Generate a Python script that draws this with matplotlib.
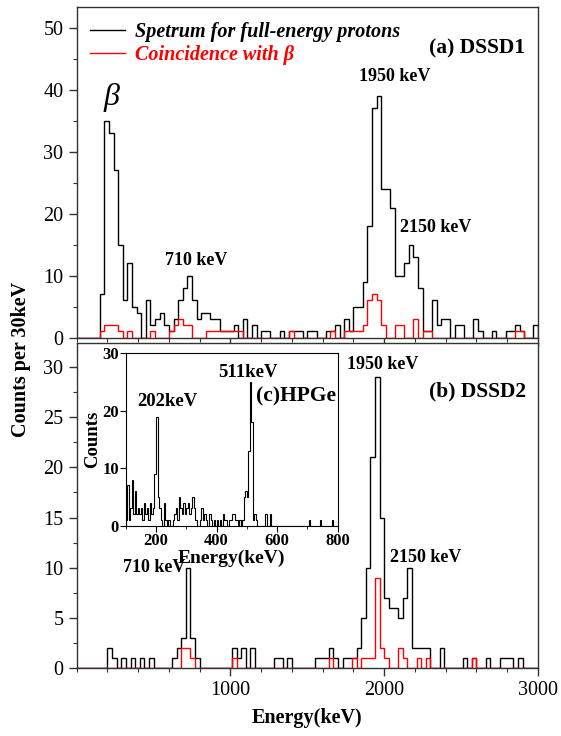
import numpy as np
import matplotlib
matplotlib.use("Agg")
import matplotlib.pyplot as plt
from matplotlib.lines import Line2D
from matplotlib.ticker import MultipleLocator, FixedLocator

plt.rcParams['font.family'] = ['Liberation Serif', 'DejaVu Serif']

# ── (a) DSSD1: 30 keV bins starting at 0 keV ───────────────────────
bin_w = 30
dssd1_start = 0
dssd1_all = [
    0, 0, 0, 0, 0,
    7, 35, 33, 27, 15, 6, 12, 5, 4, 0,
    6, 2, 3, 4, 2, 1, 3, 6, 8, 10,
    6, 3, 4, 4, 3, 3, 1, 1, 1, 2,
    0, 3, 0, 2, 0, 1, 1, 0, 0, 1,
    0, 1, 1, 1, 0, 1, 1, 0, 0, 1,
    1, 2, 0, 3, 1, 5, 5, 9, 18, 37,
    39, 24, 24, 21, 10, 10, 12, 15, 13, 8,
    1, 1, 6, 2, 3, 3, 0, 2, 2, 0,
    0, 3, 1, 0, 0, 1, 0, 0, 1, 1,
    2, 1, 0, 0, 2,
]
dssd1_beta = [
    0, 0, 0, 0, 0,
    1, 2, 2, 2, 1, 0, 1, 0, 0, 0,
    0, 1, 0, 0, 0, 1, 2, 3, 2, 2,
    0, 0, 0, 1, 1, 1, 1, 1, 1, 1,
    1, 0, 0, 0, 0, 0, 0, 0, 0, 0,
    0, 1, 0, 0, 0, 0, 0, 0, 0, 0,
    1, 0, 0, 1, 1, 1, 1, 2, 6, 7,
    6, 2, 0, 0, 2, 2, 0, 0, 3, 0,
    1, 1, 0, 0, 0, 0, 0, 0, 0, 0,
    0, 0, 0, 0, 0, 0, 0, 0, 0, 0,
    1, 1, 0, 0, 0,
]

# ── (b) DSSD2: 30 keV bins starting at -10 keV ─────────────────────
dssd2_start = -10
dssd2_all = [
    0, 0, 0, 0, 0, 0, 0,
    2, 1, 0, 1, 0, 1, 0, 1, 0, 1,
    0, 0, 0, 0, 1, 2, 3, 10, 3, 1,
    0, 0, 0, 0, 0, 0, 0, 2, 1, 2,
    0, 2, 0, 0, 0, 0, 1, 1, 0, 1,
    0, 0, 0, 0, 0, 1, 1, 1, 2, 1,
    0, 1, 1, 1, 2, 5, 10, 21, 29, 15,
    7, 6, 6, 5, 7, 10, 2, 2, 2, 2,
    0, 0, 2, 0, 0, 0, 0, 1, 0, 1,
    0, 0, 1, 0, 0, 1, 1, 1, 0, 1,
    0, 0, 0, 0,
]
dssd2_beta = [
    0, 0, 0, 0, 0, 0, 0,
    0, 0, 0, 0, 0, 0, 0, 0, 0, 0,
    0, 0, 0, 0, 0, 0, 2, 2, 1, 0,
    0, 0, 0, 0, 0, 0, 0, 1, 0, 0,
    0, 0, 0, 0, 0, 0, 0, 0, 0, 0,
    0, 0, 0, 0, 0, 0, 0, 0, 1, 0,
    0, 0, 0, 1, 0, 1, 1, 1, 9, 2,
    1, 0, 0, 2, 1, 0, 0, 1, 0, 1,
    0, 0, 0, 0, 0, 0, 0, 0, 0, 1,
    0, 0, 0, 0, 0, 0, 0, 0, 0, 0,
    0, 0, 0, 0,
]

# ── (c) HPGe inset: 5 keV channels from 100 keV ────────────────────
hpge_w = 5
hpge_start = 100
hpge_counts = [
    1, 7, 1, 3, 8, 2, 6, 2, 3, 2,
    3, 1, 4, 2, 3, 1, 4, 2, 3, 9,
    19, 5, 3, 1, 0, 4, 1, 0, 1, 0,
    0, 1, 2, 3, 1, 5, 3, 2, 4, 2,
    3, 4, 2, 3, 5, 3, 1, 0, 0, 1,
    3, 1, 2, 1, 0, 2, 1, 0, 1, 0,
    1, 0, 1, 0, 2, 1, 1, 0, 1, 1,
    2, 2, 1, 1, 0, 1, 0, 1, 5, 6,
    5, 13, 25, 18, 1, 2, 1, 0, 0, 0,
    0, 0, 2, 0, 0, 2, 0, 0, 0, 0,
    0, 0, 0, 0, 0, 0, 0, 0, 0, 0,
    0, 0, 0, 0, 0, 0, 0, 0, 0, 0,
    0, 1, 0, 0, 0, 0, 0, 0, 1, 0,
    0, 0, 0, 0, 0, 0, 1, 0, 0, 0,
]

legend_labels = ["Spetrum for full-energy protons", "Coincidence with β"]


def edges_for(values, start, width):
    return start + width * np.arange(len(values) + 1)


spine_col = "#333333"
tick_fs = 14.5

fig = plt.figure(figsize=(5.61, 7.36), dpi=100)
ax1 = fig.add_axes([0.1367, 0.5412, 0.8223, 0.4488])
ax2 = fig.add_axes([0.1367, 0.0928, 0.8223, 0.4408])
axin = fig.add_axes([0.2241, 0.2857, 0.3779, 0.2343])

# ── main panels ─────────────────────────────────────────────────────
for ax, allv, betav, start in [(ax1, dssd1_all, dssd1_beta, dssd1_start),
                               (ax2, dssd2_all, dssd2_beta, dssd2_start)]:
    ax.stairs(allv, edges_for(allv, start, bin_w), color="black", lw=1.0)
    ax.stairs(betav, edges_for(betav, start, bin_w), color="red", lw=1.0)
    ax.set_xlim(0, 3000)
    ax.xaxis.set_major_locator(FixedLocator([1000, 2000, 3000]))
    ax.xaxis.set_minor_locator(MultipleLocator(200))
    ax.tick_params(which="major", direction="out", length=6, width=1.0,
                   labelsize=tick_fs, color=spine_col)
    ax.tick_params(which="minor", direction="out", length=3, width=0.8,
                   color=spine_col)
    for s in ax.spines.values():
        s.set_color(spine_col)
        s.set_linewidth(1.0)

ax1.set_ylim(0, 53.3)
ax1.yaxis.set_major_locator(MultipleLocator(10))
ax1.yaxis.set_minor_locator(MultipleLocator(5))
ax1.tick_params(axis="x", labelbottom=False)

ax2.set_ylim(0, 32.4)
ax2.yaxis.set_major_locator(MultipleLocator(5))
ax2.yaxis.set_minor_locator(MultipleLocator(2.5))

bold = dict(fontweight="bold", ha="center", va="center")
ax1.text(229, 38.8, "β", fontsize=23, fontstyle="italic", ha="center", va="center")
ax1.text(780, 12.5, "710 keV", fontsize=13, **bold)
ax1.text(2067, 42.1, "1950 keV", fontsize=13, **bold)
ax1.text(2333, 17.7, "2150 keV", fontsize=13, **bold)
ax1.text(2606, 46.6, "(a) DSSD1", fontsize=15.5, **bold)

ax2.text(502, 10.0, "710 keV", fontsize=13, **bold)
ax2.text(1990, 30.3, "1950 keV", fontsize=13, **bold)
ax2.text(2268, 11.0, "2150 keV", fontsize=13, **bold)
ax2.text(2606, 27.6, "(b) DSSD2", fontsize=15.5, **bold)

handles = [Line2D([], [], color="black", lw=1.0),
           Line2D([], [], color="red", lw=1.0)]
leg = ax1.legend(handles, legend_labels, loc="upper left",
                 bbox_to_anchor=(0.028, 0.955), frameon=False,
                 handlelength=1.75, handletextpad=0.5, labelspacing=0.15,
                 borderpad=0.0, borderaxespad=0.0,
                 prop=dict(family="Liberation Serif", size=14.5,
                           weight="bold", style="italic"))
leg.get_texts()[1].set_color("red")

fig.text(0.037, 0.511, "Counts per 30keV", rotation=90, fontsize=14.5,
         fontweight="bold", ha="center", va="center")
ax2.set_xlabel("Energy(keV)", fontsize=14.5, fontweight="bold", labelpad=6)

# ── HPGe inset ──────────────────────────────────────────────────────
axin.set_facecolor("white")
axin.stairs(hpge_counts, edges_for(hpge_counts, hpge_start, hpge_w),
            color="black", lw=0.8)
axin.set_xlim(100, 800)
axin.set_ylim(0, 30)
axin.xaxis.set_major_locator(MultipleLocator(200))
axin.xaxis.set_minor_locator(MultipleLocator(100))
axin.yaxis.set_major_locator(MultipleLocator(10))
axin.tick_params(which="major", direction="out", length=4, width=0.8,
                 labelsize=12, pad=1)
axin.tick_params(which="minor", direction="out", length=2, width=0.6)
for lab in axin.get_xticklabels() + axin.get_yticklabels():
    lab.set_fontweight("bold")
axin.set_xlabel("Energy(keV)", fontsize=14, fontweight="bold", labelpad=1)
axin.set_ylabel("Counts", fontsize=13.5, fontweight="bold", labelpad=1)
axin.text(238, 21.6, "202keV", fontsize=13.5, **bold)
axin.text(504, 26.6, "511keV", fontsize=13.5, **bold)
axin.text(662, 22.5, "(c)HPGe", fontsize=15.5, **bold)

fig.savefig("out.png", dpi=100)
